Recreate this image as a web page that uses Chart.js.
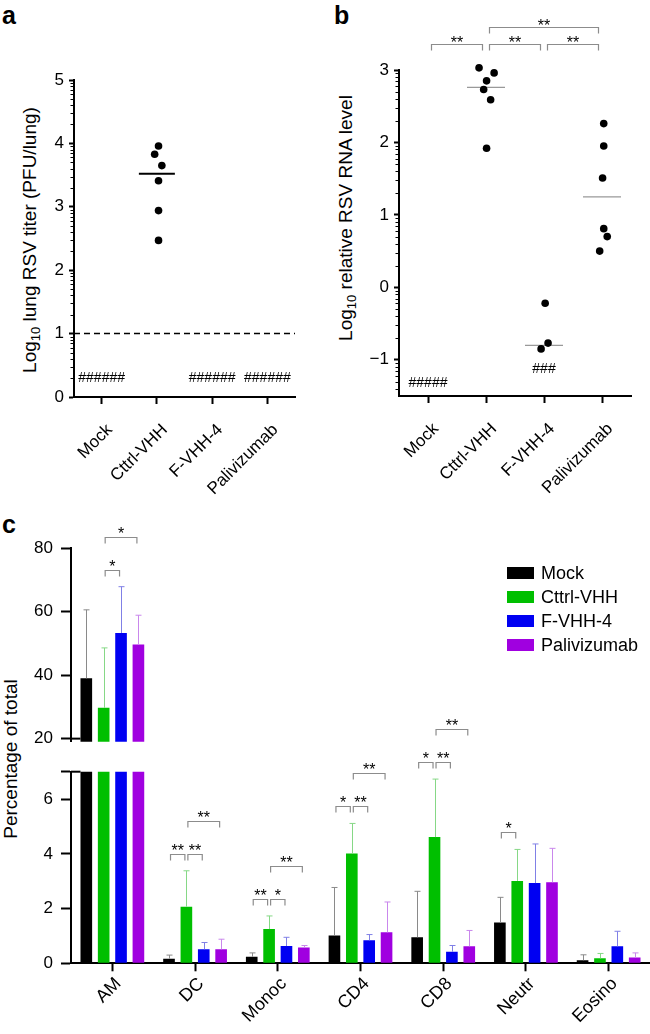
<!DOCTYPE html>
<html>
<head>
<meta charset="utf-8">
<script src="https://cdn.jsdelivr.net/npm/chart.js@4.4.1/dist/chart.umd.min.js"></script>
<style>
  html, body { margin:0; padding:0; background:#fff; }
  body { position:relative; width:650px; height:1034px; overflow:hidden; font-family:"Liberation Sans", Arial, Helvetica, sans-serif; color:#000; }
  canvas { position:absolute; }
  .panel { position:absolute; font-weight:bold; font-size:25px; line-height:25px; }
  .ytitle { position:absolute; white-space:nowrap; font-size:19px; line-height:19px; transform:translate(-50%,-50%) rotate(-90deg); }
  .ytitle sub { font-size:13px; line-height:0; vertical-align:-4px; }
  .leg-box { position:absolute; width:27px; height:12px; }
  .leg-txt { position:absolute; font-size:18px; line-height:24px; white-space:nowrap; }
</style>
</head>
<body>
<div class="panel" style="left:2px;top:3px">a</div>
<div class="panel" style="left:334px;top:3px">b</div>
<div class="panel" style="left:2px;top:512px">c</div>
<div class="ytitle" style="left:29px;top:240px">Log<sub>10</sub> lung RSV titer (PFU/lung)</div>
<div class="ytitle" style="left:345px;top:218px">Log<sub>10</sub> relative RSV RNA level</div>
<div class="ytitle" style="left:10px;top:759px">Percentage of total</div>
<canvas id="chartA" width="325" height="520" style="left:0;top:0"></canvas>
<canvas id="chartB" width="325" height="520" style="left:325px;top:0"></canvas>
<canvas id="chartCTop" width="650" height="260" style="left:0;top:500px"></canvas>
<canvas id="chartCBot" width="650" height="344" style="left:0;top:690px"></canvas>
<div id="legend"></div>
<script>
// ================= DATA =================
const groupsAB = ['Mock', 'Cttrl-VHH', 'F-VHH-4', 'Palivizumab'];

// Panel a: lung RSV titer (log10 PFU/lung)
const titerCttrl       = [3.96, 3.83, 3.65, 3.41, 2.94, 2.47];
const titerCttrlJitter = [0.03, -0.04, 0.09, 0.03, 0.03, 0.03];
const titerCenterLine  = [null, 3.52, null, null];
const titerLimit       = 1;
const titerUndetected  = ['######', '', '######', '######'];

// Panel b: relative RSV RNA level (log10)
const rnaCttrl        = [3.03, 2.96, 2.85, 2.73, 2.59, 1.92];
const rnaCttrlJitter  = [-0.12, 0.14, 0.01, -0.04, 0.08, 0.01];
const rnaFvhh         = [-0.22, -0.85, -0.77];
const rnaFvhhJitter   = [0.02, -0.05, 0.07];
const rnaPali         = [2.26, 1.95, 1.51, 0.81, 0.70, 0.50];
const rnaPaliJitter   = [0.03, 0.03, 0.01, 0.03, 0.09, -0.04];
const rnaCenterLine   = [null, 2.76, -0.80, 1.25];
const rnaUndetected   = ['#####', '', '###', ''];
const rnaSignif       = [[0, 1, '**', 1], [1, 2, '**', 1], [2, 3, '**', 1], [1, 3, '**', 2]];

// Panel c: cell populations (% of total), mean and mean+SD
const cellTypes  = ['AM', 'DC', 'Monoc', 'CD4', 'CD8', 'Neutr', 'Eosino'];
const treatments = ['Mock', 'Cttrl-VHH', 'F-VHH-4', 'Palivizumab'];
const mockMean   = [39.0, 0.17, 0.24, 1.02, 0.95, 1.49, 0.11];
const mockUpper  = [60.6, 0.30, 0.38, 2.77, 2.63, 2.41, 0.31];
const cttrlMean  = [29.7, 2.07, 1.25, 4.01, 4.61, 3.01, 0.18];
const cttrlUpper = [48.6, 3.38, 1.73, 5.11, 6.73, 4.16, 0.36];
const fvhhMean   = [53.3, 0.51, 0.63, 0.84, 0.42, 2.93, 0.62];
const fvhhUpper  = [67.9, 0.76, 0.95, 1.05, 0.65, 4.36, 1.17];
const paliMean   = [49.7, 0.51, 0.58, 1.13, 0.62, 2.96, 0.21];
const paliUpper  = [58.9, 0.88, 0.65, 2.24, 1.20, 4.20, 0.38];
// [cell type index, from treatment, to treatment, label, level]
const cellSignif = [
  [0, 1, 2, '*', 1], [0, 1, 3, '*', 2],
  [1, 0, 1, '**', 1], [1, 1, 2, '**', 1], [1, 1, 3, '**', 2],
  [2, 0, 1, '**', 1], [2, 1, 2, '*', 1], [2, 1, 3, '**', 2],
  [3, 0, 1, '*', 1], [3, 1, 2, '**', 1], [3, 1, 3, '**', 2],
  [4, 0, 1, '*', 1], [4, 1, 2, '**', 1], [4, 1, 3, '**', 2],
  [5, 0, 1, '*', 1]
];

// ================= STYLE =================
const FONT = '"Liberation Sans", Arial, Helvetica, sans-serif';
Chart.defaults.font.family = FONT;
Chart.defaults.color = '#000';
Chart.defaults.animation = false;

const cMeans = [mockMean, cttrlMean, fvhhMean, paliMean];
const cUpper = [mockUpper, cttrlUpper, fvhhUpper, paliUpper];
const barColors = ['#000000', '#00bf00', '#0000f2', '#a000e0'];
const errColors = ['#8a8a8a', '#86d886', '#8080e6', '#c987ec'];

// legend (HTML, built from the series names / colours)
(function () {
  const lg = document.getElementById('legend');
  treatments.forEach((name, i) => {
    const cy = 572.7 + i * 24.1;
    const box = document.createElement('div');
    box.className = 'leg-box';
    box.style.left = '507px'; box.style.top = (cy - 6) + 'px';
    box.style.background = barColors[i];
    lg.appendChild(box);
    const t = document.createElement('div');
    t.className = 'leg-txt';
    t.style.left = '541px'; t.style.top = (cy - 12) + 'px';
    t.textContent = name;
    lg.appendChild(t);
  });
})();

// ---------- dot plot helper (panels a, b) ----------
function dotExtras(cfg) {
  return {
    id: 'dotExtras',
    beforeDatasetsDraw(chart) {
      const { ctx, chartArea: ca, scales: { x, y } } = chart;
      ctx.save();
      // log-spaced minor ticks on y axis
      ctx.strokeStyle = '#000'; ctx.lineWidth = 1;
      for (let n = Math.floor(y.min); n < y.max; n++) {
        for (let k = 2; k <= 9; k++) {
          const v = n + Math.log10(k);
          if (v < y.min || v > y.max) continue;
          const py = Math.round(y.getPixelForValue(v)) + 0.5;
          ctx.beginPath(); ctx.moveTo(ca.left - 1, py); ctx.lineTo(ca.left - 3.5, py); ctx.stroke();
        }
      }
      // detection limit
      if (cfg.limit != null) {
        const py = y.getPixelForValue(cfg.limit);
        ctx.setLineDash([6, 4]); ctx.lineWidth = 1.5;
        ctx.beginPath(); ctx.moveTo(ca.left, py); ctx.lineTo(ca.right, py); ctx.stroke();
        ctx.setLineDash([]);
      }
      // centre lines
      cfg.lines.forEach((v, i) => {
        if (v == null) return;
        const px = x.getPixelForValue(i), py = y.getPixelForValue(v);
        ctx.strokeStyle = cfg.lineColor; ctx.lineWidth = cfg.lineWidth;
        ctx.beginPath(); ctx.moveTo(px - cfg.half, py); ctx.lineTo(px + cfg.half, py); ctx.stroke();
      });
      // undetected marks
      ctx.fillStyle = '#000'; ctx.font = '14px ' + FONT;
      ctx.textAlign = 'center'; ctx.textBaseline = 'middle';
      cfg.undetected.forEach((t, i) => {
        if (!t) return;
        ctx.fillText(t, x.getPixelForValue(i), y.getPixelForValue(cfg.undetectedY[i]));
      });
      // significance brackets
      (cfg.signif || []).forEach(([a, b, lab, lev]) => {
        const x1 = x.getPixelForValue(a) + 3.5, x2 = x.getPixelForValue(b) - 3.5;
        const yb = Math.round(ca.top - (lev === 1 ? 26 : 43)) + 0.5;
        ctx.strokeStyle = '#8c8c8c'; ctx.lineWidth = 1.2;
        ctx.beginPath(); ctx.moveTo(x1, yb + 6); ctx.lineTo(x1, yb); ctx.lineTo(x2, yb); ctx.lineTo(x2, yb + 6); ctx.stroke();
        ctx.fillStyle = '#000'; ctx.font = '16px ' + FONT; ctx.textBaseline = 'alphabetic';
        ctx.fillText(lab, (x1 + x2) / 2, yb + 3.5);
      });
      ctx.restore();
    }
  };
}

function dotChart(id, datasets, yMin, yMax, yTicks, padding, extras) {
  return new Chart(document.getElementById(id), {
    type: 'scatter',
    data: { datasets },
    options: {
      responsive: false, animation: false, events: [],
      layout: { padding },
      plugins: { legend: { display: false }, tooltip: { enabled: false } },
      scales: {
        x: {
          type: 'linear', min: -0.5, max: 3.5,
          afterBuildTicks: s => { s.ticks = groupsAB.map((_, i) => ({ value: i })); },
          ticks: { callback: v => groupsAB[v], autoSkip: false, minRotation: 45, maxRotation: 45,
                   font: { size: 17 }, color: '#000', padding: 16, labelOffset: 8 },
          grid: { drawOnChartArea: false, tickLength: 7, tickWidth: 2, tickColor: '#000' },
          border: { color: '#000', width: 2 },
          afterFit: s => { s.height = 100; }
        },
        y: {
          min: yMin, max: yMax,
          afterBuildTicks: s => { s.ticks = yTicks.map(v => ({ value: v })); },
          ticks: { callback: v => String(v).replace('-', '\u2212'), font: { size: 17 }, color: '#000', padding: 5 },
          grid: { drawOnChartArea: false, tickLength: 5, tickWidth: 2, tickColor: '#000' },
          border: { color: '#000', width: 2 },
          afterFit: s => { s.width = 74; }
        }
      }
    },
    plugins: [dotExtras(extras)]
  });
}

const dotStyle = { backgroundColor: '#000', borderColor: '#000', pointRadius: 3.8, pointBorderWidth: 0, clip: false };
const toPts = (vals, jit, idx) => vals.map((v, i) => ({ x: idx + jit[i], y: v }));

// ---------- panel a ----------
dotChart('chartA',
  [Object.assign({ data: toPts(titerCttrl, titerCttrlJitter, 1) }, dotStyle)],
  0, 5, [0, 1, 2, 3, 4, 5],
  { top: 80, right: 30, bottom: 23, left: 0 },
  { limit: titerLimit, lines: titerCenterLine, lineColor: '#000', lineWidth: 2, half: 18,
    undetected: titerUndetected, undetectedY: [0.3, 0.3, 0.3, 0.3] });

// ---------- panel b ----------
dotChart('chartB',
  [Object.assign({ data: toPts(rnaCttrl, rnaCttrlJitter, 1) }, dotStyle),
   Object.assign({ data: toPts(rnaFvhh, rnaFvhhJitter, 2) }, dotStyle),
   Object.assign({ data: toPts(rnaPali, rnaPaliJitter, 3) }, dotStyle)],
  -1.5, 3, [-1, 0, 1, 2, 3],
  { top: 70, right: 19, bottom: 24, left: 0 },
  { limit: null, lines: rnaCenterLine, lineColor: '#999', lineWidth: 1.3, half: 19,
    undetected: rnaUndetected, undetectedY: [-1.32, 0, -1.13, 0], signif: rnaSignif });

// ---------- panel c helpers ----------
const errorBars = {
  id: 'errorBars',
  afterDatasetsDraw(chart) {
    const { ctx, scales: { y } } = chart;
    ctx.save(); ctx.lineWidth = 1;
    chart.data.datasets.forEach((ds, d) => {
      chart.getDatasetMeta(d).data.forEach((bar, j) => {
        const v = ds.data[j];
        if (v < y.min || v > y.max) return;
        const yTop = y.getPixelForValue(Math.min(cUpper[d][j], y.max));
        const bx = Math.round(bar.x) + 0.5;
        ctx.strokeStyle = errColors[d];
        ctx.beginPath();
        ctx.moveTo(bx, bar.y); ctx.lineTo(bx, yTop);
        ctx.moveTo(bx - 3, yTop); ctx.lineTo(bx + 3, yTop);
        ctx.stroke();
      });
    });
    ctx.restore();
  }
};

const brackets = {
  id: 'brackets',
  afterDraw(chart) {
    const { ctx, scales: { y } } = chart;
    ctx.save();
    cellSignif.forEach(([cat, a, b, lab, lev]) => {
      let inRange = true, topPx = Infinity;
      for (let d = a; d <= b; d++) {
        const m = cMeans[d][cat];
        if (m < y.min || m > y.max) inRange = false;
        topPx = Math.min(topPx, y.getPixelForValue(cUpper[d][cat]));
      }
      if (!inRange) return;
      const yb = Math.round(topPx - 17 - (lev - 1) * 33) + 0.5;
      const x1 = chart.getDatasetMeta(a).data[cat].x + 1.5;
      const x2 = chart.getDatasetMeta(b).data[cat].x - 1.5;
      ctx.strokeStyle = '#8c8c8c'; ctx.lineWidth = 1.2;
      ctx.beginPath(); ctx.moveTo(x1, yb + 6); ctx.lineTo(x1, yb); ctx.lineTo(x2, yb); ctx.lineTo(x2, yb + 6); ctx.stroke();
      ctx.fillStyle = '#000'; ctx.font = '16px ' + FONT;
      ctx.textAlign = 'center'; ctx.textBaseline = 'alphabetic';
      ctx.fillText(lab, (x1 + x2) / 2, yb + 1.5);
    });
    ctx.restore();
  }
};

const breakMark = val => ({
  id: 'breakMark',
  afterDraw(chart) {
    const { ctx, chartArea: ca, scales: { y } } = chart;
    const py = y.getPixelForValue(val);
    ctx.save(); ctx.strokeStyle = '#000'; ctx.lineWidth = 2;
    ctx.beginPath(); ctx.moveTo(ca.left, py); ctx.lineTo(ca.left + 9.5, py); ctx.stroke();
    ctx.restore();
  }
});

function barChart(id, yMin, yMax, yTicks, showX, padding, breakAt) {
  return new Chart(document.getElementById(id), {
    type: 'bar',
    data: {
      labels: cellTypes,
      datasets: treatments.map((name, d) => ({
        label: name, data: cMeans[d], backgroundColor: barColors[d], borderWidth: 0,
        categoryPercentage: 0.84, barPercentage: 0.67, clip: 0
      }))
    },
    options: {
      responsive: false, animation: false, events: [],
      layout: { padding },
      plugins: { legend: { display: false }, tooltip: { enabled: false } },
      scales: {
        x: {
          display: showX, offset: true,
          grid: { offset: false, drawOnChartArea: false, tickLength: 8, tickWidth: 2, tickColor: '#000' },
          border: { color: '#000', width: 2 },
          ticks: { font: { size: 18 }, color: '#000', autoSkip: false, minRotation: 45, maxRotation: 45, padding: 2, labelOffset: 6 },
          afterFit: s => { s.height = showX ? 60 : 0; }
        },
        y: {
          min: yMin, max: yMax,
          afterBuildTicks: s => { s.ticks = yTicks.map(v => ({ value: v })); },
          ticks: { font: { size: 17 }, color: '#000', padding: 8, callback: v => (v === 7 ? '' : String(v)) },
          grid: { drawOnChartArea: false, tickLength: 10, tickWidth: 2, tickColor: '#000' },
          border: { color: '#000', width: 2 },
          afterFit: s => { s.width = 71; }
        }
      }
    },
    plugins: [errorBars, brackets, breakMark(breakAt)]
  });
}

barChart('chartCTop', 19, 80, [20, 40, 60, 80], false, { top: 48.3, right: 0, bottom: 15.8, left: 0 }, 20);
barChart('chartCBot', 0, 7, [0, 2, 4, 6, 7], true, { top: 81.7, right: 0, bottom: 10.7, left: 0 }, 7);
</script>
</body>
</html>
